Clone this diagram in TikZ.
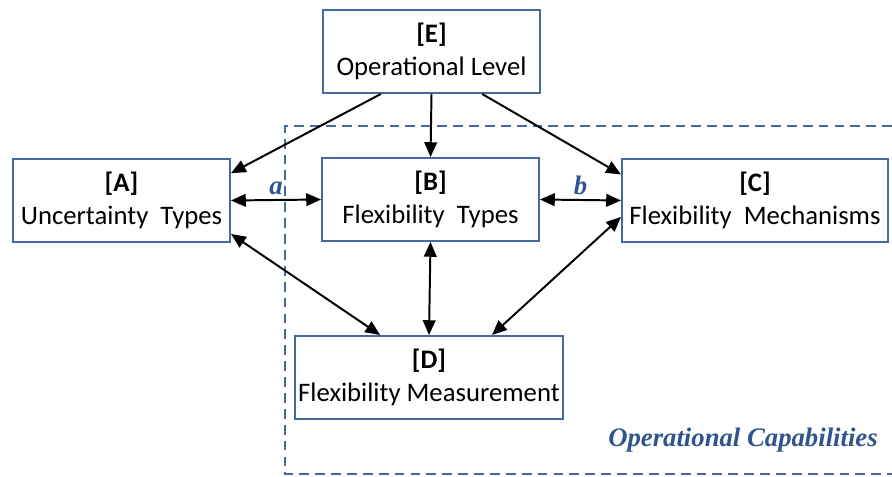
\documentclass[tikz,border=0pt]{standalone}
\usepackage{fontspec}
\setmainfont{Carlito}
\newfontfamily\capfont{Liberation Serif}
\usetikzlibrary{arrows.meta}

\definecolor{boxblue}{RGB}{68,106,160}
\definecolor{capblue}{RGB}{47,84,142}

\tikzset{
  box/.style={draw=boxblue, line width=1.4pt, fill=white, align=center,
    minimum width=5.425cm, minimum height=2.075cm, inner sep=2pt,
    font=\fontsize{19}{23.5}\selectfont},
  link/.style={line width=1.4pt, -{Triangle[length=10.5pt,width=9pt]}},
  dlink/.style={link, {Triangle[length=10.5pt,width=9pt]}-{Triangle[length=10.5pt,width=9pt]}},
  tag/.style={text=capblue, font=\capfont\bfseries\itshape\fontsize{19}{22}\selectfont},
}

\begin{document}
\begin{tikzpicture}[x=0.025cm, y=-0.025cm]
        \useasboundingbox (0,0) rectangle (892,477);

        % Operational capabilities frame (runs off the right edge)
        \draw[boxblue, line width=1.4pt, dash pattern=on 7pt off 4.3pt]
            (892,126) -- (285,126) -- (285,474) -- (892,474);
        \node[tag] (caps) at (743,440) {Operational Capabilities};

        % Boxes
        \node[box] (E) at (431.5,51.5) {\textbf{[E]}\\Operational Level};
        \node[box] (A) at (121.5,200.5) {\textbf{[A]}\\Uncertainty\ \ Types};
        \node[box] (B) at (430.5,199.5) {\textbf{[B]}\\Flexibility\ \ Types};
        \node[box, minimum width=6.65cm] (C) at (755,200.5) {\textbf{[C]}\\Flexibility\ \ Mechanisms};
        \node[box, minimum width=6.6cm] (D) at (429,377.5) {\textbf{[D]}\\Flexibility Measurement};

        % From the operational level down
        \draw[link] (E.220) -- (A.14);
        \draw[link] (E.south) -- (B.north);
        \draw[link] (E.-40) -- (C.169);

        % Two-way links
        \draw[dlink] (A.east) -- node[tag, above] (la) {a} (B.west);
        \draw[dlink] (B.east) -- node[tag, above] (lb) {b} (C.west);
        \foreach \from/\to in {A.-17/D.139, B.south/D.north, C.187/D.34}
            \draw[dlink] (\from) -- (\to);
\end{tikzpicture}
\end{document}
